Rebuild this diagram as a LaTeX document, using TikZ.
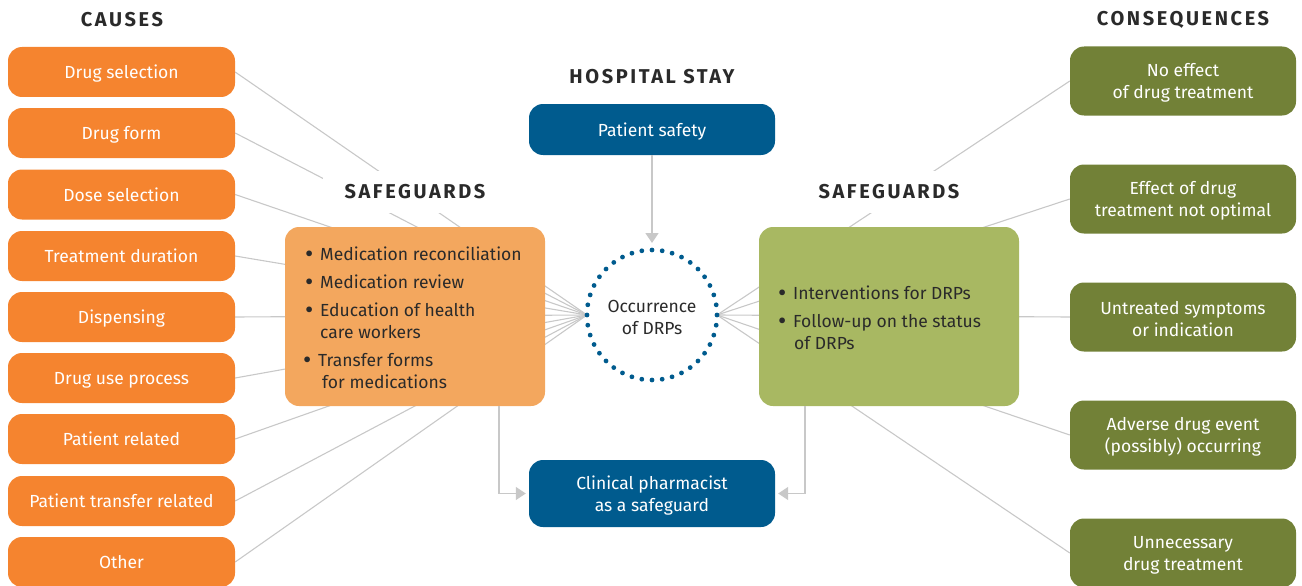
\documentclass[tikz,border=0pt]{standalone}
\usepackage{fontspec}
\setmainfont{Fira Sans}
\usetikzlibrary{arrows.meta,backgrounds}
\definecolor{causeor}{HTML}{F5842F}
\definecolor{safeor}{HTML}{F3A75E}
\definecolor{hblue}{HTML}{005B8E}
\definecolor{conggreen}{HTML}{728137}
\definecolor{safegreen}{HTML}{A8B862}
\definecolor{lgray}{HTML}{C8C8C8}
\definecolor{txt}{HTML}{2A2A2A}
\newcommand{\bodyfont}{\fontsize{17.5}{22}\selectfont}
\newcommand{\titlefont}{\fontsize{20}{22}\selectfont\bfseries\addfontfeatures{LetterSpace=13}}
\newcommand{\blt}{\makebox[15pt][l]{\raisebox{-0.25ex}{\scalebox{1.45}{\textbullet}}}}
\newcommand{\dn}{\rule{0pt}{17pt}}
\tikzset{
  x=1pt, y=-1pt,
  cause/.style={fill=causeor, rounded corners=14pt, minimum width=227pt, minimum height=50pt,
    text=white, font=\bodyfont, inner sep=0pt, text height=15pt, text depth=2pt},
  conseq/.style={fill=conggreen, rounded corners=14pt, minimum width=226pt, minimum height=69pt,
    text=white, font=\bodyfont, align=center, inner sep=0pt},
  bluebox/.style={fill=hblue, rounded corners=14pt, minimum width=246pt,
    text=white, font=\bodyfont, align=center, inner sep=0pt},
  sgbox/.style={rounded corners=14pt, minimum width=260pt, minimum height=179pt, inner sep=0pt},
  title/.style={text=txt, font=\titlefont, inner sep=0pt},
  mask/.style={fill=white, inner xsep=22pt, inner ysep=14pt},
  item/.style={text=txt, font=\bodyfont, inner sep=0pt, anchor=base west},
  conn/.style={draw=lgray, line width=1.1pt},
  arr/.style={draw=lgray, line width=1.6pt, -{Triangle[width=13pt,length=10pt]}, shorten >=3pt},
}
\begin{document}
\begin{tikzpicture}
\useasboundingbox (0,0) rectangle (1302,586);
% titles
\node[title] (tcause) at (122,20) {CAUSES};
\node[title] (tcons) at (1183,20) {CONSEQUENCES};
\node[title] (thosp) at (652,77) {HOSPITAL STAY};
\node[title,mask] (tsgl) at (415,192) {SAFEGUARDS};
\node[title,mask] (tsgr) at (889,192) {SAFEGUARDS};
% causes
\node[cause] (c1) at (121.5,72) {Drug selection};
\node[cause] (c2) at (121.5,133) {Drug form};
\node[cause] (c3) at (121.5,194.5) {Dose selection};
\node[cause] (c4) at (121.5,256) {Treatment duration};
\node[cause] (c5) at (121.5,317) {Dispensing};
\node[cause] (c6) at (121.5,378) {Drug use process};
\node[cause] (c7) at (121.5,439) {Patient related};
\node[cause] (c8) at (121.5,501) {Patient transfer related};
\node[cause] (c9) at (121.5,562) {Other};
% consequences
\node[conseq] (q1) at (1183,81) {\dn No effect\\of drug treatment};
\node[conseq] (q2) at (1183,199) {\dn Effect of drug\\treatment not optimal};
\node[conseq] (q3) at (1183,317) {\dn Untreated symptoms\\or indication};
\node[conseq] (q4) at (1183,435) {\dn Adverse drug event\\(possibly) occurring};
\node[conseq] (q5) at (1183,553) {\dn Unnecessary\\drug treatment};
% safeguard boxes
\node[sgbox, fill=safeor] (lsg) at (415,316.5) {};
\node[sgbox, fill=safegreen] (rsg) at (889,316.5) {};
\node[item] (l1) at (305,260) {\blt Medication reconciliation};
\node[item] (l2) at (305,288) {\blt Medication review};
\node[item] (l3) at (305,316) {\blt Education of health};
\node[item] (l4) at (320,338) {care workers};
\node[item] (l5) at (303,366) {\blt Transfer forms};
\node[item] (l6) at (322,388) {for medications};
\node[item] (r1) at (778,299) {\blt Interventions for DRPs};
\node[item] (r2) at (778,327) {\blt Follow-up on the status};
\node[item] (r3) at (794,349) {of DRPs};
% center
\node[circle, minimum size=130pt, inner sep=0pt, outer sep=0pt, draw=hblue, line width=4.8pt,
  dash pattern=on 0pt off 10.21pt, line cap=round, text=txt, font=\bodyfont, align=center]
  (circ) at (652,315) {\dn Occurrence\\of DRPs};
\node[bluebox, minimum height=51pt] (ps) at (652,129.5) {\dn Patient safety};
\node[bluebox, minimum height=67pt] (cp) at (652,493.5) {\dn Clinical pharmacist\\as a safeguard};
\coordinate (la) at (499,406);
\coordinate (ra) at (805,406);
% connectors
\begin{pgfonlayer}{background}
  \foreach \c in {c1,c2,c3,c4,c5,c6,c7,c8,c9} \draw[conn] (\c.east) -- (circ.west);
  \foreach \q in {q1,q2,q3,q4,q5} \draw[conn] (\q.west) -- (circ.east);
\end{pgfonlayer}
\draw[arr] (ps.south) -- ([yshift=4pt]circ.north);
\draw[arr] (la) |- (cp.west);
\draw[arr] (ra) |- (cp.east);
\end{tikzpicture}
\end{document}
